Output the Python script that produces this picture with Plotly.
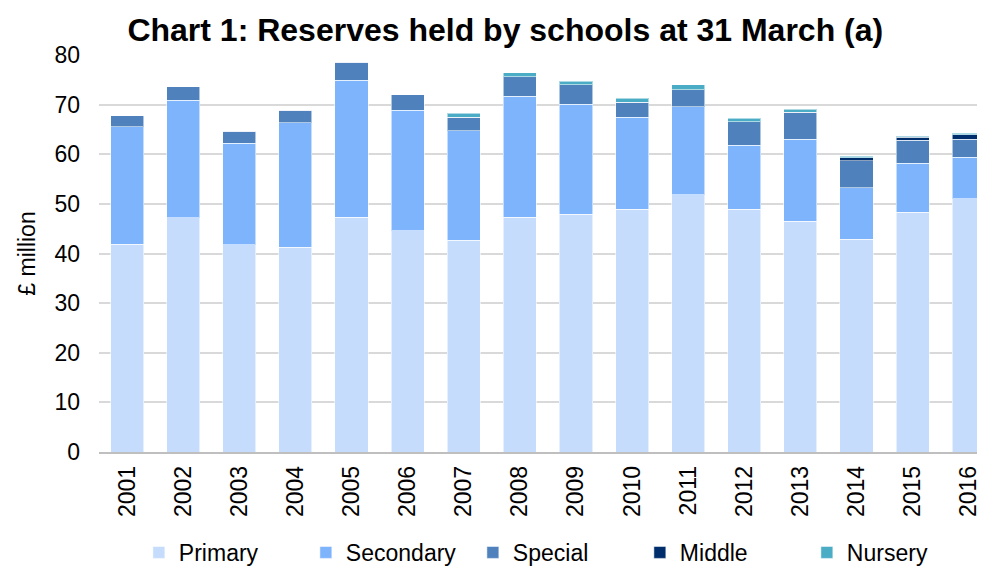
import plotly.graph_objects as go

years = ["2001", "2002", "2003", "2004", "2005", "2006", "2007", "2008",
         "2009", "2010", "2011", "2012", "2013", "2014", "2015", "2016"]

primary = [41.9, 47.2, 41.8, 41.3, 47.3, 44.6, 42.7, 47.3,
           47.9, 48.9, 51.8, 48.9, 46.5, 42.9, 48.3, 51.0]
secondary = [23.6, 23.7, 20.4, 25.0, 27.6, 24.3, 22.0, 24.4,
             22.2, 18.6, 17.8, 12.9, 16.5, 10.3, 9.9, 8.4]
special = [2.3, 2.7, 2.4, 2.6, 3.6, 3.1, 2.8, 3.9,
           3.9, 3.0, 3.4, 4.7, 5.5, 5.5, 4.6, 3.6]
middle = [0, 0, 0, 0, 0, 0, 0, 0,
          0, 0, 0, 0, 0, 0.6, 0.6, 0.9]
nursery = [0, 0, 0, 0, 0, 0, 0.8, 0.8,
           0.7, 0.8, 1.0, 0.8, 0.6, 0.3, 0.2, 0.3]

series = [
    ("Primary", primary, "#C5DCFC"),
    ("Secondary", secondary, "#7EB4FC"),
    ("Special", special, "#4F81BD"),
    ("Middle", middle, "#002D6C"),
    ("Nursery", nursery, "#4BACC6"),
]

fig = go.Figure()
for name, vals, col in series:
    fig.add_trace(go.Bar(
        x=years, y=vals, name=name,
        marker=dict(color=col, line=dict(color="rgba(255,255,255,0.55)", width=1)),
    ))

font_family = "Liberation Sans, Arial, sans-serif"

fig.update_layout(
    barmode="stack",
    bargap=0.41,
    width=977, height=560,
    paper_bgcolor="white", plot_bgcolor="white",
    margin=dict(l=91, r=0, t=47, b=116, autoexpand=False),
    font=dict(family=font_family, size=23, color="black"),
    title=dict(
        text="<b>Chart 1: Reserves held by schools at 31 March (a)</b>",
        x=0.509, xanchor="center", y=0.961, yanchor="middle",
        font=dict(family=font_family, size=32, color="black"),
    ),
    legend=dict(
        orientation="h", x=0.045, xanchor="left", y=-0.253, yanchor="middle",
        font=dict(size=23), itemwidth=30, traceorder="normal",
        entrywidth=122, entrywidthmode="pixels",
    ),
    showlegend=True,
)
fig.update_xaxes(
    type="category", range=[-0.5, 15.29],
    tickangle=-90, showline=True, linecolor="#BFBFBF", linewidth=1.5,
    ticks="", showgrid=False, tickfont=dict(size=23), ticklabelstandoff=3,
)
fig.update_yaxes(
    range=[0, 80], dtick=10, showgrid=True, gridcolor="#D9D9D9", gridwidth=1.5,
    zeroline=False, showline=False, ticks="", tickfont=dict(size=23),
    ticklabelstandoff=18,
    title=dict(text="£ million", font=dict(size=23), standoff=12),
)

fig.write_html("out.html")
